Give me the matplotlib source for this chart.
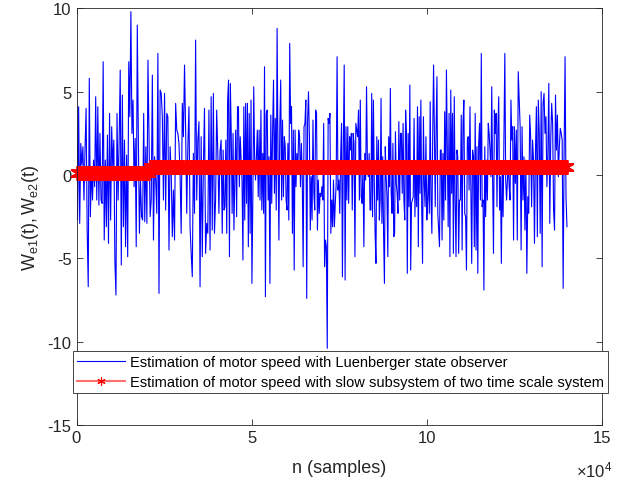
import numpy as np
import matplotlib
matplotlib.use('Agg')
import matplotlib.pyplot as plt

plt.rcParams['font.family'] = ['Liberation Sans', 'DejaVu Sans']
plt.rcParams['mathtext.fontset'] = 'custom'
plt.rcParams['mathtext.rm'] = 'Liberation Sans'
plt.rcParams['mathtext.it'] = 'Liberation Sans:italic'
plt.rcParams['axes.unicode_minus'] = False

# sample index where each block of readings starts/ends
seg_edges = [0, 20700, 41600, 62400, 83300, 104100, 125000, 140000]

# Luenberger observer estimate, read block by block from the picture
we1_seg1 = [7.6, -2.7, 4.1, -2.9, 1.9, 0.6, 1.7, -1.5, 1.6, 4.0, -3.3, -6.7, 5.8, -2.5, 0.5, -1.5, 0.9, -0.7,
            4.7, -1.5, 4.1, -1.8, 2.5, -1.5, -1.7, 6.8, -3.9, 0.9, -3.1, 2.4, -4.1, 3.7, -2.7, 2.9, 0.5, 2.1,
            -5.2, -7.2, 3.7, -1.5, 2.1, 6.3, -5.4, 4.8, -3.1, 2.1, -4.3, 1.2, -4.9, 6.8, 3.5, 9.8, 2.5, 4.5,
            -0.7, 2.2, -4.3, 9.0, 2.2, -3.5, -0.3, -2.5, -2.7, 3.7, -2.8, 1.7, -2.9, 6.9]
we1_seg2 = [2.1, -2.5, -1.5, 6.0, -3.9, 1.1, -0.3, -2.3, 7.3, -7.1, 5.1, 4.9, 3.5, -1.5, 4.9, -2.1, 3.7, 3.5,
            -4.5, 1.7, 0.2, -3.7, -0.9, -3.9, 4.3, 2.7, 2.5, 1.9, 0.0, -3.5, 4.3, 2.3, 6.6, 2.7, -2.3, 1.7,
            4.1, -3.1, -4.7, -6.1, 1.3, -2.3, 8.1, -1.5, 2.1, 3.2, -6.7, 2.3, -4.9, 0.5, 4.0, -4.7, -2.9,
            -3.5, 3.9, -4.5, 4.7, -3.3, 4.9, -3.5, -1.5, 3.9, 1.3, -2.3, 1.4, 2.1]
we1_seg3 = [-3.5, 1.5, -2.1, -1.9, 2.1, -3.5, 4.5, 5.7, -4.9, 5.5, 2.5, -2.3, 2.5, -3.3, -0.3, 2.7, -2.5, 4.1,
            4.1, -0.7, 2.3, 0.9, -0.3, -5.1, 4.1, -2.7, 4.3, -1.7, 4.3, -4.3, 3.7, -3.5, 4.5, -6.5, -1.5, 5.3,
            1.1, -0.3, 1.1, 2.7, -1.3, 2.7, -1.5, 3.9, -2.1, 1.3, -2.3, 6.5, -7.3, 3.7, 3.9, -1.5, 1.1, -6.5,
            3.6, -1.7, 2.7, 5.7, -1.1, 3.4, -2.1, 8.8, 1.1, -3.9, 2.9, 5.7, -1.5, 3.3, -1.3, 2.3, 1.7, -1.5,
            -2.1, 1.9, -2.7, 7.9, 3.1, 4.1, -3.5, 2.7, -5.7]
we1_seg4 = [2.7, -0.7, 1.3, 0.1, 2.7, 2.3, -0.7, 1.9, -0.1, -5.5, 2.9, 3.1, 4.5, -7.4, 3.3, 5.0, 2.3, -3.3,
            -0.1, -2.7, 3.3, -1.1, -2.1, 3.9, 3.7, -3.3, -0.3, -2.3, -1.1, -1.3, -0.7, -1.5, 3.1, -5.5, -3.9,
            -4.3, -10.4, 3.4, 3.1, 3.7, -3.5, -1.5, -3.1, -0.3, -3.1, -1.7, -0.5, 7.1, -0.9, -0.3, -2.3, 1.1,
            3.1, -6.1, 1.7, 6.6, -6.3, 2.9, -1.5, 2.9, -1.7, 2.3, 1.5, 2.5, -2.1, 2.5, 1.9, -4.9, 3.1, 2.7,
            2.3, 3.9, -1.5, 4.5, -1.3, -1.7, 0.5, -4.3, 1.3, -0.3, 5.3, 0.7]
we1_seg5 = [-0.1, 1.3, -2.1, -2.1, 4.9, -2.5, 4.5, -0.3, -3.5, -5.3, 2.3, -1.5, 2.1, -2.7, -1.5, 4.6, -2.9,
            1.1, -3.5, -6.5, 1.7, -0.1, -1.3, -4.9, 2.3, -0.7, 5.2, -1.1, -2.3, 1.9, -3.7, -3.5, 2.6, -0.5,
            -1.1, -2.3, 3.2, -1.5, 2.5, 2.5, -1.1, 3.1, -1.5, -2.7, 3.9, 2.5, -5.9, 2.5, -1.9, 5.4, -5.7,
            -1.7, -1.5, -1.3, 3.4, -2.5, 0.7, -1.9, 4.1, -4.3, 3.5, -1.1, 4.5, -1.9, -5.3, 3.5, -0.5, -1.9,
            2.3, -2.7, -1.5, 0.3, -2.3, 4.4, -1.5, -3.5, 2.5, 6.6, 2.1, -1.9, 2.9, 5.9, -2.3, -3.3, -4.3, 1.5]
we1_seg6 = [1.5, -3.9, 1.3, -2.7, 3.8, -1.5, 6.3, 1.5, -3.1, 3.7, -4.9, 5.1, -1.1, 3.7, -4.7, 4.7, -1.5, -4.9,
            1.5, 1.1, -4.7, -1.5, -1.5, 3.6, -4.5, 3.1, 4.5, -2.3, -2.5, -5.7, 2.1, 2.3, -0.9, 4.1, -0.9, -5.3,
            1.5, 1.1, -4.3, 3.7, -4.5, 1.7, -5.9, 1.9, 3.1, -1.5, 7.3, -1.9, -1.5, -6.9, 1.7, -2.5, 0.9, -1.5,
            3.1, 2.5, 1.5, -0.1, 5.3, -0.3, -4.7, 3.9, 2.5, 3.7, -1.9, 2.7, 4.7, -2.1, -0.1, -5.3, 0.7, -2.5,
            2.7, 7.3, -0.3, -1.5, -0.3, 0.7, -0.7, -1.5, 4.5, 2.1, 2.9, -3.9]
we1_seg7 = [2.9, -0.5, 2.7, -3.9, 6.2, 4.5, 2.9, -4.5, 2.9, -1.5, 1.1, -3.3, 0.9, -5.9, -1.3, -2.3, 3.6, 2.3,
            -1.9, 2.1, 0.9, -4.1, 1.3, 4.1, -3.7, 4.5, 2.5, -3.5, 5.0, -5.5, 4.3, 4.9, 2.5, 3.5, -0.7, 1.3,
            5.5, -2.9, 2.1, 4.3, 3.1, -2.1, -3.3, 4.8, 1.5, 3.6, -0.1, 1.7, 2.8, 2.5, 2.1, -6.8, 1.3, 7.1,
            -1.3, -3.1]
we1_segs = [we1_seg1, we1_seg2, we1_seg3, we1_seg4, we1_seg5, we1_seg6, we1_seg7]

# slow subsystem estimate: two levels with the step near n = 21000
we2_low, we2_high, we2_step = 0.1, 0.5, 21000

xticks = [0, 50000, 100000, 150000]
xtick_labels = ['0', '5', '10', '15']
yticks = [-15, -10, -5, 0, 5, 10]

n_parts = []
for i, seg in enumerate(we1_segs):
    last = i == len(we1_segs) - 1
    n_parts.append(np.linspace(seg_edges[i], seg_edges[i + 1], len(seg), endpoint=last))
n = np.concatenate(n_parts)
we1 = np.concatenate([np.array(s) for s in we1_segs])
we2 = np.where(n < we2_step, we2_low, we2_high)

fig = plt.figure(figsize=(6.25, 4.85), dpi=100)
ax = fig.add_axes([0.1224, 0.1216, 0.8408, 0.859])

ax.plot(n, we1, color='#0000ff', lw=0.8,
        label='Estimation of motor speed with Luenberger state observer')
ax.plot(n, we2, color='#ff0000', lw=1.5, marker=(6, 2, 0), markersize=10.5, markeredgewidth=1.3,
        clip_on=False,
        label='Estimation of motor speed with slow subsystem of two time scale system')

ax.set_xlim(0, 150000)
ax.set_ylim(-15, 10)
ax.set_xticks(xticks, xtick_labels)
ax.set_yticks(yticks)
ax.tick_params(direction='in', top=True, right=True, labelsize=12, colors='#262626', length=4, width=0.6)
for s in ax.spines.values():
    s.set_color('#262626')
    s.set_linewidth(0.6)

ax.set_xlabel('n (samples)', fontsize=13, color='#262626', labelpad=10)
ax.set_ylabel(r'$\mathregular{W_{e1}(t), W_{e2}(t)}$', fontsize=13, color='#262626', labelpad=5)
ax.text(1.02, -0.107, r'$\times\mathregular{10^{4}}$', transform=ax.transAxes,
        ha='right', va='center', fontsize=12, color='#262626')

leg = ax.legend(loc='upper left', bbox_to_anchor=(-0.007, 0.178), fontsize=10.5, fancybox=False,
                framealpha=1, edgecolor='#262626', borderpad=0.3, handlelength=3.3,
                handletextpad=0.3, labelspacing=0.38, borderaxespad=0)
leg.get_frame().set_linewidth(0.6)
leg.legend_handles[1].set_markersize(6)
leg.legend_handles[1].set_markeredgewidth(0.8)
leg.legend_handles[1].set_color('#ff7070')
leg.legend_handles[1].set_markeredgecolor('#ff0000')

plt.savefig('out.png', dpi=100)
